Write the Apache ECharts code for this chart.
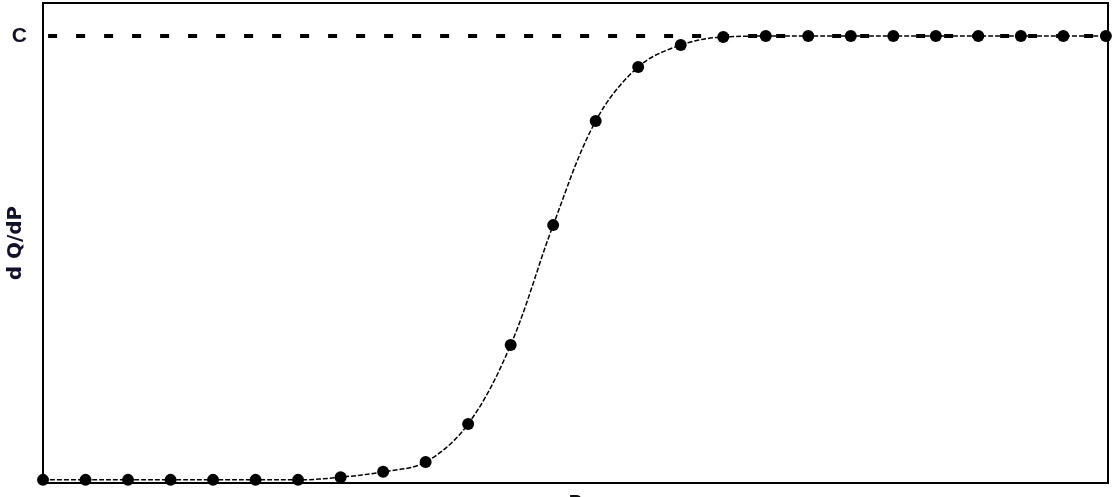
<!DOCTYPE html>
<html>
<head>
<meta charset="utf-8">
<script src="https://cdn.jsdelivr.net/npm/echarts@6/dist/echarts.min.js"></script>
<style>html,body{margin:0;padding:0;background:#fff}#c{width:1112px;height:497px}</style>
</head>
<body>
<div id="c"></div>
<script>
// Data
var pValues = [0,1,2,3,4,5,6,7,8,9,10,11,12,13,14,15,16,17,18,19,20,21,22,23,24,25];
var dQdP = [0.007,0.007,0.007,0.007,0.007,0.007,0.007,0.013,0.025,0.047,0.132,0.309,0.577,0.810,0.931,0.980,0.998,1.0,1.0,1.0,1.0,1.0,1.0,1.0,1.0,1.0];
var cLevel = 1.0;
var cLineStart = 0.12;
var yTickValues = [1.0];
var yTickLabels = ['C'];
var xAxisName = 'P';
var yAxisName = 'd Q/dP';

var pts = pValues.map(function(p, i){ return [p, dQdP[i]]; });
var chart = echarts.init(document.getElementById('c'), null, {renderer: 'canvas'});
chart.setOption({
  animation: false,
  backgroundColor: '#fff',
  grid: {left: 43, right: 4, top: 3, bottom: 14, containLabel: false, outerBoundsMode: 'none',
         show: true, borderColor: '#000', borderWidth: 2, backgroundColor: 'transparent'},
  xAxis: {
    type: 'value', min: 0, max: 25.05,
    name: xAxisName, nameLocation: 'middle', nameGap: 10, nameMoveOverlap: false,
    nameTextStyle: {fontFamily: 'Liberation Sans', fontWeight: 'bold', fontSize: 20, color: '#111', verticalAlign: 'top'},
    axisLine: {show: false}, axisTick: {show: false}, axisLabel: {show: false}, splitLine: {show: false}
  },
  yAxis: {
    type: 'value', min: 0, max: 1.074,
    name: yAxisName, nameLocation: 'middle', nameRotate: 90, nameGap: 17, nameMoveOverlap: false,
    nameTextStyle: {fontFamily: 'DejaVu Sans', fontWeight: 'bold', fontSize: 20, color: '#11112a', verticalAlign: 'bottom'},
    axisLine: {show: false}, axisTick: {show: false}, splitLine: {show: false},
    axisLabel: {
      show: true, customValues: yTickValues, margin: 16,
      formatter: function(v){ var i = yTickValues.indexOf(v); return i >= 0 ? yTickLabels[i] : ''; },
      fontFamily: 'Liberation Sans', fontWeight: 'bold', fontSize: 21, color: '#11112a',
      padding: [0, 0, 4, 0]
    }
  },
  series: [
    {
      type: 'line', data: pts, smooth: 0.35, clip: false,
      symbol: 'circle', symbolSize: 12, showAllSymbol: true,
      itemStyle: {color: '#000'},
      lineStyle: {color: '#000', width: 1.5, type: [5, 2]},
      z: 3,
      markLine: {
        silent: true, symbol: ['none', 'none'], label: {show: false},
        lineStyle: {color: '#000', width: 4, type: [9, 19]},
        data: [[{coord: [cLineStart, cLevel]}, {coord: [25.05, cLevel]}]],
        z: 2
      }
    }
  ]
});
</script>
</body>
</html>
